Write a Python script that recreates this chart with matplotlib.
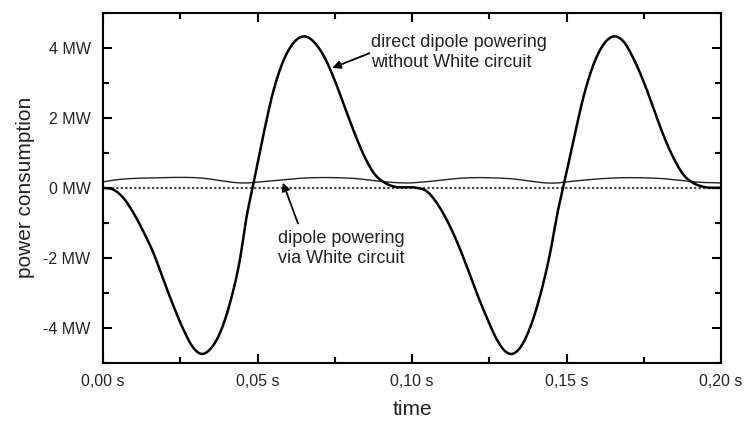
import numpy as np
import matplotlib.pyplot as plt
from matplotlib.ticker import MultipleLocator, FuncFormatter

plt.rcParams['font.family'] = ['Liberation Sans', 'DejaVu Sans']

# --- data (time in s, power in MW) ---
t_direct = [0.0, 0.0033, 0.0066, 0.0098, 0.013, 0.0163, 0.0195, 0.0228, 0.026, 0.0292,
            0.0319, 0.0346, 0.0379, 0.0411, 0.0443, 0.0465, 0.0486, 0.0519, 0.0551,
            0.0583, 0.0616, 0.0654, 0.0686, 0.0718, 0.0751, 0.0783, 0.0816, 0.0848, 0.088,
            0.0913, 0.0945, 0.098, 0.1016, 0.1048, 0.108, 0.1112, 0.1145, 0.1177, 0.1209,
            0.1242, 0.1274, 0.1301, 0.1323, 0.135, 0.1382, 0.1414, 0.1447, 0.1473, 0.1489,
            0.1522, 0.1554, 0.1587, 0.1619, 0.1652, 0.1684, 0.1716, 0.1749, 0.1781, 0.1813,
            0.1846, 0.1878, 0.191, 0.1943, 0.2]
p_direct = [0.0, -0.05, -0.29, -0.71, -1.24, -1.86, -2.62, -3.38, -4.05, -4.57,
            -4.75, -4.62, -4.14, -3.29, -2.05, -0.81, 0.09, 1.52, 2.76,
            3.62, 4.14, 4.33, 4.14, 3.71, 3.05, 2.29, 1.52, 0.86, 0.38,
            0.14, 0.03, 0.02, 0.0, -0.1, -0.43, -0.91, -1.53, -2.24, -3.0,
            -3.71, -4.33, -4.67, -4.75, -4.57, -4.0, -3.1, -1.86, -0.62, 0.0,
            1.33, 2.57, 3.52, 4.09, 4.33, 4.19, 3.71, 3.05, 2.29, 1.52,
            0.86, 0.38, 0.14, 0.03, 0.0]

t_white = [0.0, 0.0012, 0.0184, 0.0303, 0.0465, 0.053, 0.068, 0.081, 0.0929, 0.099,
           0.1026, 0.1188, 0.1306, 0.1468, 0.152, 0.1684, 0.18, 0.193, 0.2]
p_white = [0.17, 0.19, 0.29, 0.29, 0.14, 0.19, 0.29, 0.27, 0.16, 0.14,
           0.16, 0.29, 0.27, 0.14, 0.19, 0.29, 0.27, 0.16, 0.14]

t_zero = [0.0, 0.2]
p_zero = [0.0, 0.0]

x_ticks = [0.0, 0.05, 0.10, 0.15, 0.20]
y_ticks = [-4, -2, 0, 2, 4]

txt = '#222222'


# cubic Hermite through the read points, so the pen line looks smooth
def smooth(t, p, n=12):
    t = np.asarray(t, float)
    p = np.asarray(p, float)
    m = np.gradient(p, t)
    xs, ys = [], []
    for i in range(len(t) - 1):
        h = t[i + 1] - t[i]
        s = np.linspace(0, 1, n, endpoint=False)
        h00 = 2 * s**3 - 3 * s**2 + 1
        h10 = s**3 - 2 * s**2 + s
        h01 = -2 * s**3 + 3 * s**2
        h11 = s**3 - s**2
        xs.append(t[i] + s * h)
        ys.append(h00 * p[i] + h10 * h * m[i] + h01 * p[i + 1] + h11 * h * m[i + 1])
    xs.append([t[-1]])
    ys.append([p[-1]])
    return np.concatenate(xs), np.concatenate(ys)


fig = plt.figure(figsize=(7.45, 4.21), dpi=100)
ax = fig.add_axes([0.1383, 0.1385, 0.8295, 0.8306])

ax.plot(t_zero, p_zero, color='#444444', lw=1.6, linestyle=(0, (1, 1)))
ax.plot(*smooth(t_white, p_white), color='#222222', lw=1.0)
ax.plot(*smooth(t_direct, p_direct), color='black', lw=1.8, solid_joinstyle='round')

ax.set_xlim(0, 0.2)
ax.set_ylim(-5, 5)
ax.set_xticks(x_ticks)
ax.set_yticks(y_ticks)
ax.xaxis.set_minor_locator(MultipleLocator(0.025))
ax.yaxis.set_minor_locator(MultipleLocator(1))
ax.xaxis.set_major_formatter(FuncFormatter(lambda v, p: f'{v:.2f} s'.replace('.', ',')))
ax.yaxis.set_major_formatter(FuncFormatter(lambda v, p: f'{v:.0f} MW'))

ax.tick_params(which='both', direction='in', top=True, right=True, width=1.5, colors='black',
               labelcolor=txt, labelsize=11.5)
ax.tick_params(which='major', length=6.5)
ax.tick_params(which='minor', length=4)
ax.tick_params(axis='x', pad=8)
ax.tick_params(axis='y', pad=9)
for s in ax.spines.values():
    s.set_linewidth(1.5)

ax.set_xlabel('time', fontsize=15, color=txt, labelpad=8)
ax.set_ylabel('power consumption', fontsize=15, color=txt, labelpad=6)

arrow = dict(arrowstyle='-|>', color='black', lw=1.3, mutation_scale=12, shrinkA=0, shrinkB=0)
ax.text(0.0868, 3.88, 'direct dipole powering\nwithout White circuit', fontsize=13,
        color=txt, ha='left', va='center', linespacing=1.25)
ax.annotate('', xy=(0.0742, 3.43), xytext=(0.0862, 3.85), arrowprops=arrow)
ax.text(0.0566, -1.74, 'dipole powering\nvia White circuit', fontsize=13,
        color=txt, ha='left', va='center', linespacing=1.25)
ax.annotate('', xy=(0.0582, 0.15), xytext=(0.0631, -1.02), arrowprops=arrow)

fig.savefig('out.png', dpi=100)
